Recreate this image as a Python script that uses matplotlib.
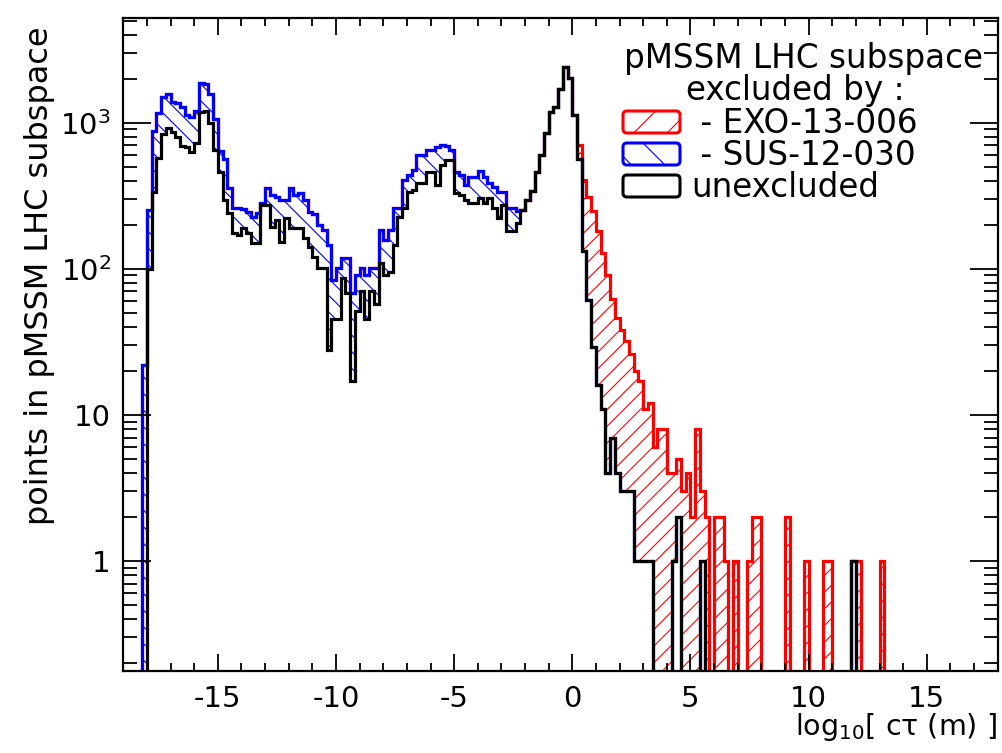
import numpy as np
import matplotlib
matplotlib.use('Agg')
import matplotlib.pyplot as plt
from matplotlib.ticker import MultipleLocator, LogLocator, NullFormatter, FixedLocator, FixedFormatter
from matplotlib.patches import FancyBboxPatch
from matplotlib.transforms import IdentityTransform

plt.rcParams['font.family'] = ['DejaVu Sans']
plt.rcParams['axes.unicode_minus'] = False
plt.rcParams['hatch.linewidth'] = 0.8
plt.rcParams['mathtext.default'] = 'regular'

# ---------------- data (bins of 0.2 in log10[c tau (m)], first edge -18.2) ----------------
bin_width = 0.2
first_edge = -18.2

# unexcluded points (black)
unexcluded = [0,
    100, 337, 570, 837, 915, 869, 802, 693, 679, 634,
    730, 1189, 1208, 991, 651, 462, 296, 239, 177, 170,
    189, 175, 150, 150, 273, 273, 194, 216, 153, 222,
    189, 189, 189, 162, 141, 121, 101, 101, 28, 45,
    45, 86, 68, 17, 51, 70, 45, 70, 57, 109,
    91, 95, 146, 227, 259, 337, 346, 385, 385, 462,
    462, 375, 513, 556, 556, 329, 320, 296, 282, 282,
    303, 282, 303, 259, 222, 273, 180, 180, 205, 253,
    296, 340, 462, 600, 846, 1189, 1288, 1700, 2416, 2015,
    1130, 560, 132, 61, 29, 16, 11, 4, 7, 4,
    3, 3, 3, 1, 1, 1, 1, 0, 0, 0,
    0, 1, 2, 0, 0, 0, 0, 1, 0, 0,
    0, 0, 0, 0, 0, 0, 0, 0, 0, 0,
    0, 0, 0, 0, 0, 0, 0, 0, 0, 0,
    0, 0, 0, 0, 0, 0, 0, 0, 0, 1,
    0, 0, 0, 0, 0, 0, 0]

# unexcluded + excluded by SUS-12-030 (blue), first bins
sus_stack = [22,
    253, 881, 1170, 1493, 1564, 1393, 1370, 1288, 1130, 1089,
    1208, 1862, 1840, 1564, 1066, 643, 561, 356, 259, 259,
    256, 246, 227, 239, 282, 356, 320, 311, 296, 296,
    356, 320, 329, 296, 246, 236, 199, 184, 146, 84,
    101, 118, 118, 68, 91, 101, 91, 101, 101, 184,
    157, 184, 259, 259, 405, 438, 475, 600, 600, 651,
    651, 680, 700, 690, 651, 462, 438, 375, 426, 426,
    469, 426, 385, 365, 337, 337, 259, 259, 250, 253]

# all points incl. excluded by EXO-13-006 (red), from bin index 92 (x = 0.2) on
exo_first_bin = 92
exo_stack = [700, 405, 311, 250, 180, 128, 90, 62, 46,
    38, 32, 26, 20, 17, 11, 12, 6, 8, 8,
    4, 4, 5, 3, 4, 2, 8, 3, 2, 0,
    2, 2, 1, 0, 1, 0, 0, 1, 2, 2,
    0, 0, 0, 0, 0, 2, 0, 0, 0, 1,
    0, 0, 0, 1, 1, 0, 0, 0, 0, 1,
    1, 0, 0, 0, 0, 1, 0]

legend_title = ['pMSSM LHC subspace', 'excluded by :']
legend_labels = [' - EXO-13-006', ' - SUS-12-030', 'unexcluded']
colors = ['#ff0000', '#0000ff', '#000000']

# ---------------- build histograms ----------------
n = len(unexcluded)
edges = first_edge + bin_width * np.arange(n + 1)
h_black = np.array(unexcluded, float)
h_blue = h_black.copy()
m = len(sus_stack)
h_blue[:m] = np.maximum(h_black[:m], sus_stack)
h_red = h_blue.copy()
h_red[exo_first_bin:exo_first_bin + len(exo_stack)] = np.maximum(
    h_blue[exo_first_bin:exo_first_bin + len(exo_stack)], exo_stack)

floor = 1e-3
def pos(a):
    return np.where(a > 0, a, floor)

W, H = 1003, 753
fig = plt.figure(figsize=(W / 100, H / 100), dpi=100)
L, R, T, B = 123.3, 997.7, 18.3, 671.0
ax = fig.add_axes([L / W, (H - B) / H, (R - L) / W, (B - T) / H])
ax.set_yscale('log')
ax.set_xlim(-19, 18)
ax.set_ylim(0.1766, 5180)

ax.stairs(pos(h_red), edges, baseline=floor, fill=True, facecolor='white',
          edgecolor=colors[0], hatch='//', linewidth=0)
ax.stairs(pos(h_blue), edges, baseline=floor, fill=True, facecolor='white',
          edgecolor=colors[1], hatch='\\\\', linewidth=0)
ax.stairs(pos(h_black), edges, baseline=floor, fill=True, facecolor='white',
          edgecolor='white', linewidth=0)
for h, c in [(h_red, colors[0]), (h_blue, colors[1]), (h_black, colors[2])]:
    ax.stairs(pos(h), edges, baseline=floor, fill=False, color=c, linewidth=2.3)

# axes style
for s in ax.spines.values():
    s.set_linewidth(1.6)
ax.xaxis.set_major_locator(MultipleLocator(5))
ax.xaxis.set_minor_locator(MultipleLocator(1))
ax.yaxis.set_major_locator(FixedLocator([1, 10, 100, 1000]))
ax.yaxis.set_major_formatter(FixedFormatter(['1', '10', r'$10^{2}$', r'$10^{3}$']))
ax.yaxis.set_minor_locator(LogLocator(base=10, subs=np.arange(2, 10), numticks=30))
ax.yaxis.set_minor_formatter(NullFormatter())
ax.tick_params(axis='x', which='major', direction='in', length=12, width=1.3,
               top=True, bottom=True, labelsize=21, pad=10)
ax.tick_params(axis='x', which='minor', direction='in', length=6, width=1.3,
               top=True, bottom=True)
ax.tick_params(axis='y', which='major', direction='in', length=20, width=1.3,
               left=True, right=True, labelsize=21, pad=9)
ax.tick_params(axis='y', which='minor', direction='in', length=10, width=1.3,
               left=True, right=True)

# axis titles
fig.text(997 / W, 1 - 735 / H, r'log$_{10}$[ cτ (m) ]', ha='right', va='baseline', fontsize=20.5)
fig.text(40 / W, 1 - 276 / H, 'points in pMSSM LHC subspace', rotation=90,
         ha='center', va='center', fontsize=23)

# legend (drawn in pixel coordinates)
fig.text(804 / W, 1 - 68 / H, legend_title[0], ha='center', va='baseline', fontsize=23.5)
fig.text(795 / W, 1 - 100 / H, legend_title[1], ha='center', va='baseline', fontsize=23.5)
box_tops = [111, 143, 175]
baselines = [133, 165, 197]
text_x = [690, 690, 691]
hatches = ['/', '\\', None]
for i in range(3):
    p = FancyBboxPatch((623, H - box_tops[i] - 22), 57, 22,
                       boxstyle='round,pad=0,rounding_size=4',
                       transform=IdentityTransform(), facecolor='white',
                       edgecolor=colors[i], hatch=hatches[i], linewidth=2.2)
    fig.add_artist(p)
    fig.text(text_x[i] / W, 1 - baselines[i] / H, legend_labels[i], ha='left',
             va='baseline', fontsize=23.5)

fig.savefig('out.png', dpi=100)
